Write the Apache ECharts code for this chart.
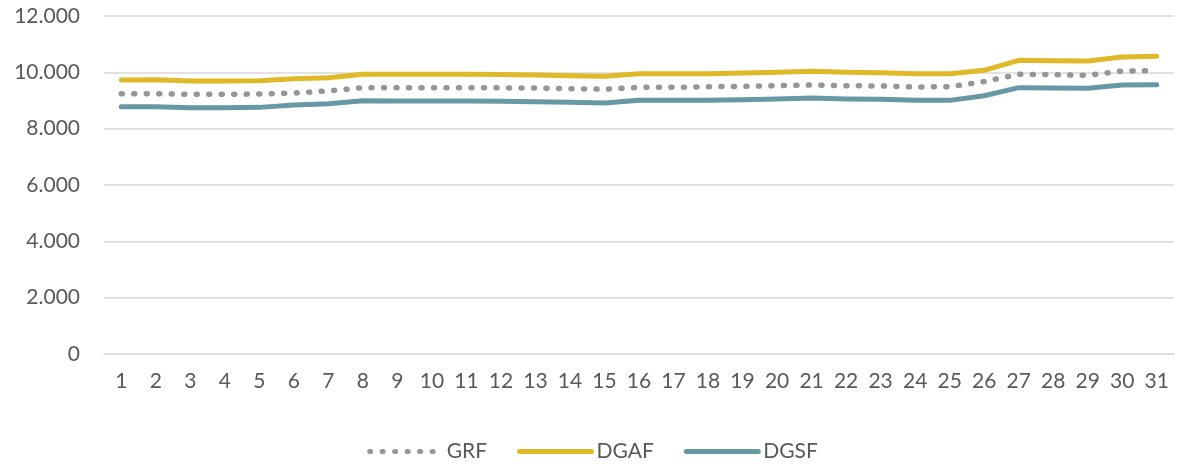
<!DOCTYPE html>
<html>
<head>
<meta charset="utf-8">
<script src="https://cdn.jsdelivr.net/npm/echarts@6/dist/echarts.min.js"></script>
<style>
  html, body { margin: 0; padding: 0; background: #fff; }
  #chart { width: 1185px; height: 471px; }
</style>
</head>
<body>
<div id="chart"></div>
<script>
// days of the month
const days = ['1','2','3','4','5','6','7','8','9','10','11','12','13','14','15','16',
  '17','18','19','20','21','22','23','24','25','26','27','28','29','30','31'];

const grf = [9240, 9240, 9220, 9220, 9230, 9265, 9340, 9455, 9455, 9455, 9455, 9450,
  9440, 9420, 9400, 9467, 9467, 9490, 9500, 9525, 9550, 9525, 9515, 9480, 9490,
  9670, 9930, 9917, 9893, 10047, 10057];

const dgaf = [9727, 9738, 9691, 9691, 9702, 9773, 9809, 9929, 9929, 9929, 9929, 9920,
  9905, 9880, 9858, 9950, 9950, 9950, 9975, 10000, 10036, 10000, 9987, 9950, 9950,
  10071, 10426, 10414, 10402, 10544, 10567];

const dgsf = [8780, 8780, 8745, 8745, 8756, 8840, 8886, 8992, 8982, 8982, 8982, 8975,
  8957, 8934, 8910, 9005, 9005, 9005, 9029, 9053, 9088, 9053, 9045, 9005, 9005,
  9170, 9455, 9443, 9431, 9550, 9562];

const textColor = '#595959';
const fontFamily = 'Lato, "Noto Sans", sans-serif';

// 12000 -> 12.000
const fmtThousands = v => String(v).replace(/\B(?=(\d{3})+(?!\d))/g, '.');

const chart = echarts.init(document.getElementById('chart'));

chart.setOption({
  animation: false,
  textStyle: { fontFamily: fontFamily },
  grid: { left: 104, right: 11, top: 16, bottom: 117, containLabel: false },
  legend: {
    bottom: 4,
    left: 'center',
    itemWidth: 72,
    itemHeight: 10,
    itemGap: 30,
    itemStyle: { opacity: 0 },
    lineStyle: { width: 5, cap: 'round' },
    textStyle: { color: textColor, fontSize: 21, fontFamily: fontFamily },
    data: ['GRF', 'DGAF', 'DGSF']
  },
  xAxis: {
    type: 'category',
    data: days,
    boundaryGap: true,
    axisLine: { show: true, lineStyle: { color: '#d9d9d9', width: 1.5 } },
    axisTick: { show: false },
    axisLabel: { color: textColor, fontSize: 21, margin: 17, interval: 0 }
  },
  yAxis: {
    type: 'value',
    min: 0,
    max: 12000,
    interval: 2000,
    axisLine: { show: false },
    axisTick: { show: false },
    axisLabel: { color: textColor, fontSize: 21, margin: 24, formatter: fmtThousands },
    splitLine: { lineStyle: { color: '#d9d9d9', width: 1.5 } }
  },
  series: [
    {
      name: 'GRF',
      type: 'line',
      data: grf,
      symbol: 'none',
      itemStyle: { color: '#969696' },
      lineStyle: { color: '#969696', width: 5.5, type: [1, 11.5], cap: 'round' }
    },
    {
      name: 'DGAF',
      type: 'line',
      data: dgaf,
      symbol: 'none',
      itemStyle: { color: '#dfb928' },
      lineStyle: { color: '#dfb928', width: 5, cap: 'round', join: 'round' }
    },
    {
      name: 'DGSF',
      type: 'line',
      data: dgsf,
      symbol: 'none',
      itemStyle: { color: '#6699a3' },
      lineStyle: { color: '#6699a3', width: 5, cap: 'round', join: 'round' }
    }
  ]
});
</script>
</body>
</html>
